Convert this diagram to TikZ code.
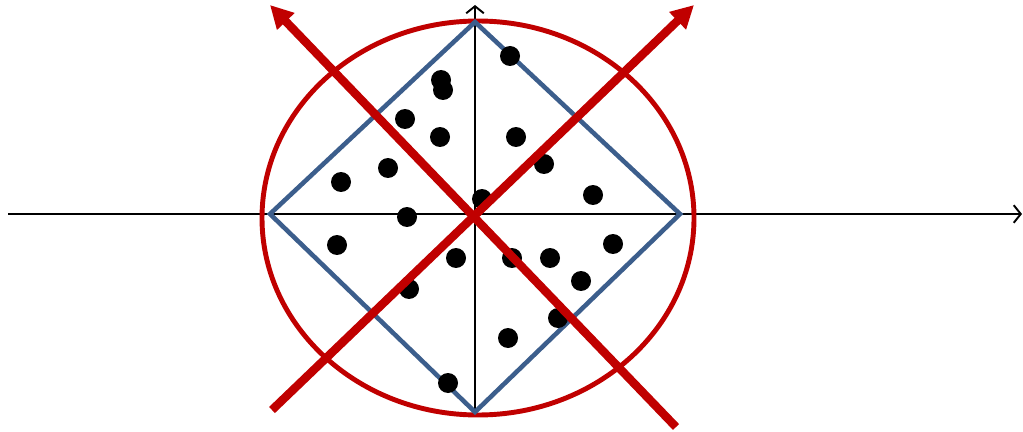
\documentclass[tikz,border=0pt]{standalone}
\usepackage{tikz}
\usetikzlibrary{arrows.meta}
\usepackage{xcolor}
\definecolor{diamondBlue}{HTML}{3C5E8C}
\definecolor{deepRed}{HTML}{C00000}

\begin{document}
\begin{tikzpicture}[x=0.02cm, y=-0.02cm,
    axis/.style={line width=1.1pt, black, -{Straight Barb[length=4pt,width=10pt]}},
    sample/.style={circle, fill=black, inner sep=0pt, minimum size=0.4cm}]
  \useasboundingbox (0,0) rectangle (1023,432);
  % axes
  \coordinate (xstart) at (8,214);
  \coordinate (xend) at (1022,214);
  \coordinate (ybot) at (475,412);
  \coordinate (ytop) at (475,5);
  \draw[axis] (xstart) -- (xend);
  \draw[axis] (ybot) -- (ytop);
  % ellipse and diamond
  \draw[deepRed, line width=2.8pt] (478,218) ellipse [x radius=216, y radius=197];
  \draw[diamondBlue, line width=2.6pt, line join=miter]
    (475,22) -- (680,214) -- (475,412) -- (270,214) -- cycle;
  % data points
  \foreach \px/\py [count=\i] in {510/56, 441/80, 443/90, 405/119, 440/137, 516/137,
      388/168, 544/164, 341/182, 593/195, 482/199, 407/217, 337/245, 613/244,
      456/258, 512/258, 550/258, 581/281, 409/289, 558/318, 508/338, 448/383}
    \node[sample] (p\i) at (\px,\py) {};
  % red directions
  \coordinate (a1) at (272,410);
  \coordinate (b1) at (694,5);
  \coordinate (a2) at (676,427);
  \coordinate (b2) at (270,5);
  \draw[deepRed, line width=4.8pt, -{Triangle[length=13pt,width=13pt]}] (a1) -- (b1);
  \draw[deepRed, line width=4.8pt, -{Triangle[length=13pt,width=13pt]}] (a2) -- (b2);
\end{tikzpicture}
\end{document}
